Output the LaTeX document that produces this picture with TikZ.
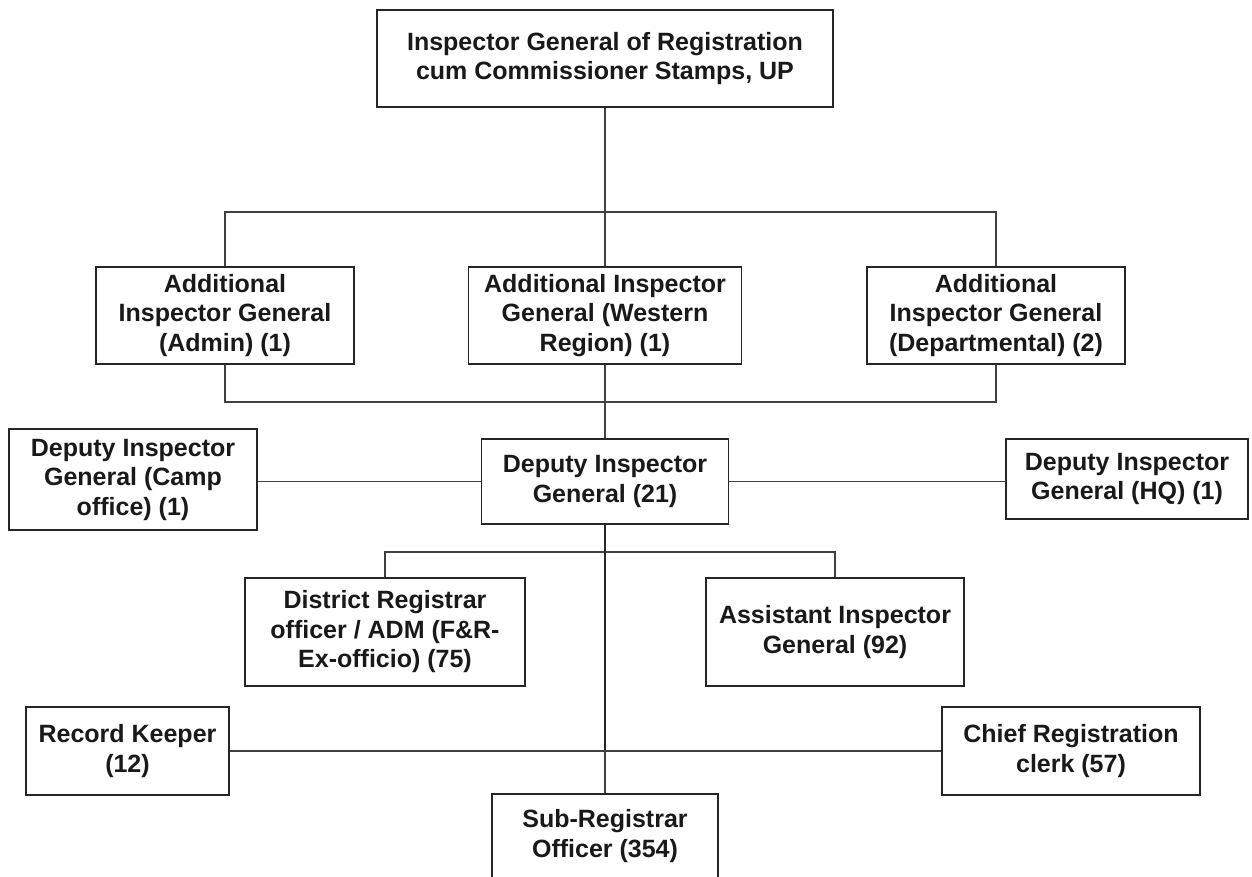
\documentclass[tikz,border=0pt]{standalone}
\usepackage{fontspec}
\setmainfont{Liberation Sans}
\begin{document}
\begin{tikzpicture}[x=1pt,y=-1pt,
  box/.style={draw=black!85, line width=1.9pt, fill=white, inner sep=0pt, align=center,
    font=\fontsize{25}{29.5}\selectfont\bfseries, text=black!90},
  conn/.style={draw=black!75, line width=1.2pt},
  thick conn/.style={draw=black!85, line width=2.2pt}]
\useasboundingbox[fill=white] (0,0) rectangle (1252,876);

% nodes
\node[box, minimum width=456, minimum height=97] (top) at (605,58.5) {Inspector General of Registration\\cum Commissioner Stamps, UP};
\node[box, minimum width=258, minimum height=97] (aigl) at (225,315.5) {Additional\\Inspector General\\(Admin) (1)};
\node[box, minimum width=273, minimum height=97] (aigm) at (605,315.5) {Additional Inspector\\General (Western\\Region) (1)};
\node[box, minimum width=258, minimum height=97] (aigr) at (996,315.5) {Additional\\Inspector General\\(Departmental) (2)};
\node[box, minimum width=248, minimum height=101] (camp) at (133,479.5) {Deputy Inspector\\General (Camp\\office) (1)};
\node[box, minimum width=247, minimum height=85] (dig) at (605,481.5) {Deputy Inspector\\General (21)};
\node[box, minimum width=242, minimum height=80] (hq) at (1127,479) {Deputy Inspector\\General (HQ) (1)};
\node[box, minimum width=280, minimum height=108] (dr) at (385,632) {District Registrar\\officer / ADM (F\&R-\\Ex-officio) (75)};
\node[box, minimum width=258, minimum height=108] (asst) at (835,632) {Assistant Inspector\\General (92)};
\node[box, minimum width=203, minimum height=88] (rk) at (127.5,751) {Record Keeper\\(12)};
\node[box, minimum width=258, minimum height=88] (chief) at (1071,751) {Chief Registration\\clerk (57)};
\node[box, minimum width=226, minimum height=84] (sr) at (605,836) {Sub-Registrar\\Officer (354)};

% helper coordinates
\coordinate (h1) at (605,212);
\coordinate (h2) at (605,402);
\coordinate (h3) at (605,552);
\coordinate (h4) at (605,751);

% top level
\draw[conn] (top.south) -- (aigm.north);
\draw[conn] (aigl.north) |- (h1) -| (aigr.north);
% bottom bracket
\draw[conn] (aigl.south) |- (h2) -| (aigr.south);
\draw[conn] (aigm.south) -- (dig.north);
% deputies
\draw[conn] (camp.east |- dig.west) -- (dig.west);
\draw[conn] (dig.east) -- (hq.west |- dig.east);
% lower
\draw[conn] (dr.north) |- (h3) -| (asst.north);
\draw[thick conn] (dig.south) -- (h4);
\draw[conn] (rk.east) -- (chief.west);
\draw[conn] (h4) -- (sr.north);
\end{tikzpicture}
\end{document}
